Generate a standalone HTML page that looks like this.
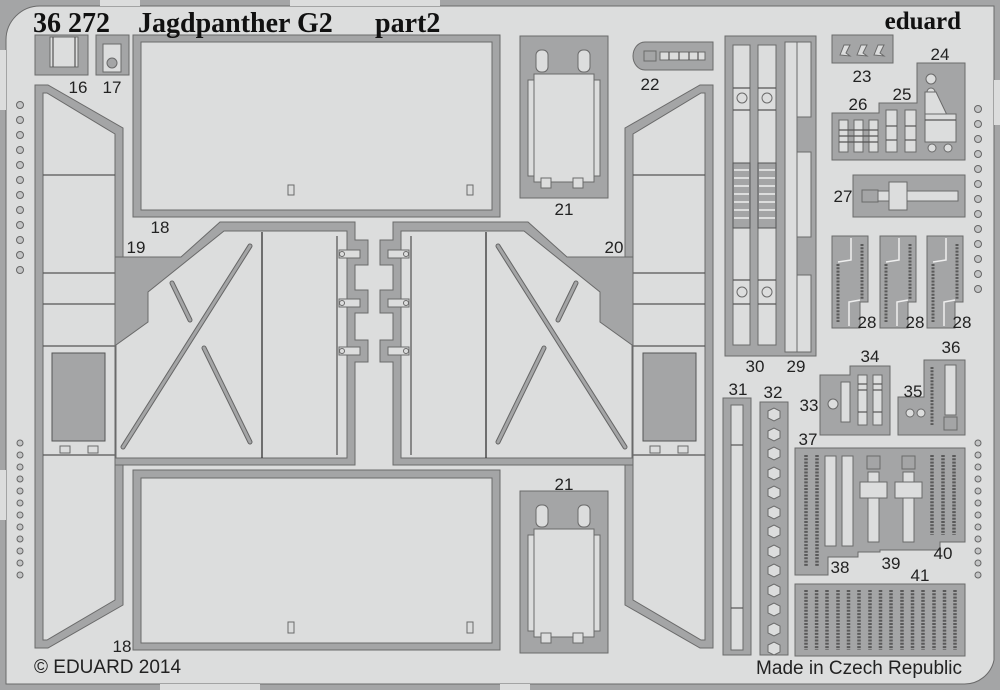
<!DOCTYPE html>
<html><head><meta charset="utf-8"><style>
html,body{margin:0;padding:0;background:#dcdddd;}
svg{display:block;}
.g{fill:#a4a5a6;stroke:#6a6a6a;stroke-width:1}
.l{fill:#dcdddd;stroke:#6a6a6a;stroke-width:1}
.ln{stroke:#555;stroke-width:1.2;fill:none}
.n{font-family:"Liberation Sans",sans-serif;font-size:17px;fill:#222;text-anchor:middle}
.d{fill:#c4c5c6;stroke:#666;stroke-width:1}
.t{font-family:"Liberation Serif",serif;font-weight:bold;font-size:28px;fill:#111}
</style></head><body>
<svg width="1000" height="690" viewBox="0 0 1000 690" xmlns="http://www.w3.org/2000/svg">
<rect width="1000" height="690" fill="#dcdddd"/>
<!-- outer frame -->
<path d="M0,0H1000V690H0Z M40,6H994V660A30,30 0 0 1 964,684H6V40A34,34 0 0 1 40,6Z" fill="#a4a5a6" fill-rule="evenodd"/>
<path d="M40,6H994V660A30,30 0 0 1 964,684H6V40A34,34 0 0 1 40,6Z" fill="none" stroke="#6a6a6a"/>
<rect x="100" y="0" width="40" height="6" fill="#dcdddd"/>
<rect x="290" y="0" width="150" height="6" fill="#dcdddd"/>
<rect x="0" y="50" width="6" height="60" fill="#dcdddd"/>
<rect x="0" y="470" width="6" height="50" fill="#dcdddd"/>
<rect x="994" y="80" width="6" height="45" fill="#dcdddd"/>
<rect x="160" y="684" width="100" height="6" fill="#dcdddd"/>
<rect x="500" y="684" width="30" height="6" fill="#dcdddd"/>

<!-- rivets -->
<g class="d">
<circle cx="20" cy="105" r="3.5"/><circle cx="20" cy="120" r="3.5"/><circle cx="20" cy="135" r="3.5"/><circle cx="20" cy="150" r="3.5"/><circle cx="20" cy="165" r="3.5"/><circle cx="20" cy="180" r="3.5"/><circle cx="20" cy="195" r="3.5"/><circle cx="20" cy="210" r="3.5"/><circle cx="20" cy="225" r="3.5"/><circle cx="20" cy="240" r="3.5"/><circle cx="20" cy="255" r="3.5"/><circle cx="20" cy="270" r="3.5"/>
<circle cx="20" cy="443" r="3"/><circle cx="20" cy="455" r="3"/><circle cx="20" cy="467" r="3"/><circle cx="20" cy="479" r="3"/><circle cx="20" cy="491" r="3"/><circle cx="20" cy="503" r="3"/><circle cx="20" cy="515" r="3"/><circle cx="20" cy="527" r="3"/><circle cx="20" cy="539" r="3"/><circle cx="20" cy="551" r="3"/><circle cx="20" cy="563" r="3"/><circle cx="20" cy="575" r="3"/>
<circle cx="978" cy="109" r="3.5"/><circle cx="978" cy="124" r="3.5"/><circle cx="978" cy="139" r="3.5"/><circle cx="978" cy="154" r="3.5"/><circle cx="978" cy="169" r="3.5"/><circle cx="978" cy="184" r="3.5"/><circle cx="978" cy="199" r="3.5"/><circle cx="978" cy="214" r="3.5"/><circle cx="978" cy="229" r="3.5"/><circle cx="978" cy="244" r="3.5"/><circle cx="978" cy="259" r="3.5"/><circle cx="978" cy="274" r="3.5"/><circle cx="978" cy="289" r="3.5"/>
<circle cx="978" cy="443" r="3"/><circle cx="978" cy="455" r="3"/><circle cx="978" cy="467" r="3"/><circle cx="978" cy="479" r="3"/><circle cx="978" cy="491" r="3"/><circle cx="978" cy="503" r="3"/><circle cx="978" cy="515" r="3"/><circle cx="978" cy="527" r="3"/><circle cx="978" cy="539" r="3"/><circle cx="978" cy="551" r="3"/><circle cx="978" cy="563" r="3"/><circle cx="978" cy="575" r="3"/>
</g>

<!-- 16, 17 -->
<rect class="g" x="35" y="35" width="53" height="40"/>
<rect class="l" x="50" y="37" width="28" height="30"/>
<line class="ln" x1="53" y1="37" x2="53" y2="67"/><line class="ln" x1="75" y1="37" x2="75" y2="67"/>
<rect class="g" x="96" y="35" width="33" height="40"/>
<rect class="l" x="103" y="44" width="18" height="28"/>
<circle class="g" cx="112" cy="63" r="5"/>

<!-- 18 top / bottom -->
<rect class="g" x="133" y="35" width="367" height="182"/>
<rect class="l" x="141" y="42" width="351" height="168"/>
<rect class="l" x="288" y="185" width="6" height="10"/><rect class="l" x="467" y="185" width="6" height="10"/>
<rect class="g" x="133" y="470" width="367" height="180"/>
<rect class="l" x="141" y="478" width="351" height="165"/>
<rect class="l" x="288" y="622" width="6" height="11"/><rect class="l" x="467" y="622" width="6" height="11"/>

<!-- left assembly (mirrored for right) -->
<g id="asm">
<polygon class="g" points="35,85 48,85 123,128 123,605 48,648 35,648"/>
<polygon class="l" points="43,93 47,93 115,134 115,600 47,640 43,640"/>
<g class="ln"><line x1="43" y1="175" x2="115" y2="175"/><line x1="43" y1="273" x2="115" y2="273"/><line x1="43" y1="304" x2="115" y2="304"/><line x1="43" y1="346" x2="115" y2="346"/><line x1="43" y1="455" x2="115" y2="455"/></g>
<rect x="52" y="353" width="53" height="88" fill="#a4a5a6" stroke="#555"/>
<rect class="l" x="60" y="446" width="10" height="7"/><rect class="l" x="88" y="446" width="10" height="7"/>
<polygon class="g" points="115,257 181,257 220,222 355,222 355,240 368,240 368,265 355,265 355,290 368,290 368,313 355,313 355,340 368,340 368,362 355,362 355,465 115,465"/>
<polygon class="l" points="224,231 347,231 347,458 116,458 116,345 148,322 148,292"/>
<line x1="262" y1="232" x2="262" y2="458" stroke="#333" stroke-width="1.3"/>
<line x1="337" y1="236" x2="337" y2="455" stroke="#333" stroke-width="1"/>
<g stroke-linecap="round">
<line x1="123" y1="447" x2="250" y2="246" stroke="#666" stroke-width="5"/>
<line x1="123" y1="447" x2="250" y2="246" stroke="#a4a5a6" stroke-width="3"/>
<line x1="172" y1="283" x2="190" y2="320" stroke="#666" stroke-width="5"/>
<line x1="172" y1="283" x2="190" y2="320" stroke="#a4a5a6" stroke-width="3"/>
<line x1="204" y1="348" x2="250" y2="442" stroke="#666" stroke-width="5"/>
<line x1="204" y1="348" x2="250" y2="442" stroke="#a4a5a6" stroke-width="3"/>
</g>
<rect class="l" x="339" y="250" width="21" height="8"/><circle class="l" cx="342" cy="254" r="2.5"/>
<rect class="l" x="339" y="299" width="21" height="8"/><circle class="l" cx="342" cy="303" r="2.5"/>
<rect class="l" x="339" y="347" width="21" height="8"/><circle class="l" cx="342" cy="351" r="2.5"/>
</g>
<use href="#asm" transform="translate(748,0) scale(-1,1)"/>

<!-- 21 -->
<g id="p21">
<rect class="g" x="520" y="36" width="88" height="162"/>
<rect class="l" x="528" y="80" width="72" height="96"/>
<rect class="l" x="534" y="74" width="60" height="108"/>
<rect class="l" x="536" y="50" width="12" height="22" rx="5"/>
<rect class="l" x="578" y="50" width="12" height="22" rx="5"/>
<rect class="l" x="541" y="178" width="10" height="10"/><rect class="l" x="573" y="178" width="10" height="10"/>
</g>
<use href="#p21" transform="translate(0,455)"/>

<!-- 22 -->
<path class="g" d="M645,42H713V70H645A12,14 0 0 1 645,42Z"/>
<rect class="g" x="644" y="51" width="12" height="10" stroke="#444"/>
<rect class="l" x="660" y="52" width="45" height="8"/>
<g class="ln"><line x1="669" y1="52" x2="669" y2="60"/><line x1="679" y1="52" x2="679" y2="60"/><line x1="689" y1="52" x2="689" y2="60"/><line x1="698" y1="52" x2="698" y2="60"/></g>

<!-- 30/29 -->
<rect class="g" x="725" y="36" width="91" height="320"/>
<rect class="l" x="733" y="45" width="17" height="300"/>
<rect class="l" x="758" y="45" width="18" height="300"/>
<circle class="l" cx="742" cy="98" r="5"/><circle class="l" cx="767" cy="98" r="5"/>
<circle class="l" cx="742" cy="292" r="5"/><circle class="l" cx="767" cy="292" r="5"/>
<g class="ln">
<line x1="733" y1="88" x2="750" y2="88"/><line x1="758" y1="88" x2="776" y2="88"/>
<line x1="733" y1="110" x2="750" y2="110"/><line x1="758" y1="110" x2="776" y2="110"/>
<line x1="733" y1="280" x2="750" y2="280"/><line x1="758" y1="280" x2="776" y2="280"/>
<line x1="733" y1="304" x2="750" y2="304"/><line x1="758" y1="304" x2="776" y2="304"/>
</g>
<rect x="733" y="163" width="17" height="65" fill="#a4a5a6" stroke="#555"/>
<rect x="758" y="163" width="18" height="65" fill="#a4a5a6" stroke="#555"/>
<g stroke="#dcdddd" stroke-width="2"><line x1="734" y1="170" x2="749" y2="170"/><line x1="734" y1="178" x2="749" y2="178"/><line x1="734" y1="186" x2="749" y2="186"/><line x1="734" y1="194" x2="749" y2="194"/><line x1="734" y1="202" x2="749" y2="202"/><line x1="734" y1="210" x2="749" y2="210"/><line x1="734" y1="218" x2="749" y2="218"/>
<line x1="759" y1="170" x2="775" y2="170"/><line x1="759" y1="178" x2="775" y2="178"/><line x1="759" y1="186" x2="775" y2="186"/><line x1="759" y1="194" x2="775" y2="194"/><line x1="759" y1="202" x2="775" y2="202"/><line x1="759" y1="210" x2="775" y2="210"/><line x1="759" y1="218" x2="775" y2="218"/></g>
<rect class="l" x="785" y="42" width="12" height="310"/>
<rect class="l" x="797" y="42" width="14" height="75"/>
<rect class="l" x="797" y="152" width="14" height="85"/>
<rect class="l" x="797" y="275" width="14" height="77"/>

<!-- 23 -->
<rect class="g" x="832" y="35" width="61" height="28"/>
<path class="l" d="M840,55l4,-10h6l-4,8l4,3z M857,55l4,-10h6l-4,8l4,3z M874,55l4,-10h6l-4,8l4,3z"/>
<!-- 24/25/26 -->
<polygon class="g" points="832,113 879,113 879,103 917,103 917,63 965,63 965,160 832,160"/>
<rect class="l" x="839" y="120" width="9" height="32"/><rect class="l" x="854" y="120" width="9" height="32"/><rect class="l" x="869" y="120" width="9" height="32"/>
<g class="ln"><line x1="839" y1="130" x2="878" y2="130"/><line x1="839" y1="136" x2="878" y2="136"/><line x1="839" y1="142" x2="878" y2="142"/></g>
<rect class="l" x="886" y="110" width="11" height="42"/><rect class="l" x="905" y="110" width="11" height="42"/>
<g class="ln"><line x1="886" y1="126" x2="897" y2="126"/><line x1="886" y1="140" x2="897" y2="140"/><line x1="905" y1="126" x2="916" y2="126"/><line x1="905" y1="140" x2="916" y2="140"/></g>
<circle class="l" cx="931" cy="79" r="5"/><circle class="l" cx="931" cy="92" r="4"/>
<polygon class="l" points="925,92 936,92 947,115 947,142 925,142"/>
<rect class="l" x="925" y="114" width="31" height="28"/>
<line class="ln" x1="925" y1="120" x2="956" y2="120"/>
<circle class="l" cx="932" cy="148" r="4"/><circle class="l" cx="948" cy="148" r="4"/>
<!-- 27 -->
<rect class="g" x="853" y="175" width="112" height="42"/>
<rect class="g" x="862" y="190" width="16" height="12" stroke="#444"/>
<rect class="l" x="878" y="191" width="80" height="10"/>
<rect class="l" x="889" y="182" width="18" height="28"/>
<!-- 28 -->
<g id="p28">
<polygon class="g" points="832,236 868,236 868,302 860,302 860,328 832,328"/>
<g fill="none" stroke="#5a5a5a" stroke-width="3" stroke-dasharray="2 1.3"><line x1="838" y1="264" x2="838" y2="322"/><line x1="862" y1="244" x2="862" y2="300"/></g>
<polyline points="851,238 851,260 838,262" fill="none" stroke="#eee" stroke-width="1.5"/>
<polyline points="849,326 849,302 860,300" fill="none" stroke="#eee" stroke-width="1.5"/>
</g>
<use href="#p28" transform="translate(48,0)"/>
<use href="#p28" transform="translate(95,0)"/>

<!-- 31, 32 -->
<rect class="g" x="723" y="398" width="28" height="257"/>
<rect class="l" x="731" y="405" width="12" height="245"/>
<g class="ln"><line x1="731" y1="445" x2="743" y2="445"/><line x1="731" y1="608" x2="743" y2="608"/></g>
<rect class="g" x="760" y="402" width="28" height="253"/>
<g class="l">
<polygon points="768,411 774,408 780,411 780,418 774,421 768,418"/>
<polygon points="768,431 774,428 780,431 780,438 774,441 768,438"/>
<polygon points="768,450 774,447 780,450 780,457 774,460 768,457"/>
<polygon points="768,470 774,467 780,470 780,477 774,480 768,477"/>
<polygon points="768,489 774,486 780,489 780,496 774,499 768,496"/>
<polygon points="768,509 774,506 780,509 780,516 774,519 768,516"/>
<polygon points="768,528 774,525 780,528 780,535 774,538 768,535"/>
<polygon points="768,548 774,545 780,548 780,555 774,558 768,555"/>
<polygon points="768,567 774,564 780,567 780,574 774,577 768,574"/>
<polygon points="768,587 774,584 780,587 780,594 774,597 768,594"/>
<polygon points="768,606 774,603 780,606 780,613 774,616 768,613"/>
<polygon points="768,626 774,623 780,626 780,633 774,636 768,633"/>
<polygon points="768,645 774,642 780,645 780,652 774,655 768,652"/>
</g>

<!-- 33/34 -->
<polygon class="g" points="820,375 850,375 850,366 890,366 890,435 820,435"/>
<circle class="l" cx="833" cy="404" r="5"/>
<rect class="l" x="841" y="382" width="9" height="40"/>
<rect class="l" x="858" y="375" width="9" height="50"/><rect class="l" x="873" y="375" width="9" height="50"/>
<g class="ln"><line x1="858" y1="384" x2="867" y2="384"/><line x1="858" y1="390" x2="867" y2="390"/><line x1="858" y1="412" x2="867" y2="412"/><line x1="873" y1="384" x2="882" y2="384"/><line x1="873" y1="390" x2="882" y2="390"/><line x1="873" y1="412" x2="882" y2="412"/></g>
<!-- 35/36 -->
<polygon class="g" points="898,397 924,397 924,360 965,360 965,435 898,435"/>
<circle class="l" cx="910" cy="413" r="4"/><circle class="l" cx="921" cy="413" r="4"/>
<line x1="932" y1="367" x2="932" y2="425" stroke="#5a5a5a" stroke-width="3" stroke-dasharray="2 1.3"/>
<rect class="l" x="945" y="365" width="11" height="50"/>
<rect class="g" x="944" y="417" width="13" height="13" stroke="#444"/>

<!-- 37-40 -->
<polygon class="g" points="795,448 965,448 965,542 940,542 940,550 880,550 880,552 858,552 858,557 828,557 828,575 795,575"/>
<g stroke="#5a5a5a" stroke-width="3.5" stroke-dasharray="2 1.3">
<line x1="806" y1="455" x2="806" y2="566"/><line x1="817" y1="455" x2="817" y2="566"/>
<line x1="932" y1="455" x2="932" y2="535"/><line x1="943" y1="455" x2="943" y2="535"/><line x1="954" y1="455" x2="954" y2="535"/>
</g>
<rect class="l" x="825" y="456" width="11" height="90"/><rect class="l" x="842" y="456" width="11" height="90"/>
<rect class="g" x="867" y="456" width="13" height="13" stroke="#444"/><rect class="g" x="902" y="456" width="13" height="13" stroke="#444"/>
<rect class="l" x="868" y="472" width="11" height="70"/><rect class="l" x="903" y="472" width="11" height="70"/>
<rect class="l" x="860" y="482" width="27" height="16"/><rect class="l" x="895" y="482" width="27" height="16"/>
<!-- 41 -->
<rect class="g" x="795" y="584" width="170" height="72"/>
<g stroke="#5a5a5a" stroke-width="3.5" stroke-dasharray="2 1.3">
<line x1="806" y1="590" x2="806" y2="650"/><line x1="816.6" y1="590" x2="816.6" y2="650"/><line x1="827" y1="590" x2="827" y2="650"/><line x1="838" y1="590" x2="838" y2="650"/><line x1="848.5" y1="590" x2="848.5" y2="650"/><line x1="859" y1="590" x2="859" y2="650"/><line x1="870" y1="590" x2="870" y2="650"/><line x1="880.5" y1="590" x2="880.5" y2="650"/><line x1="891" y1="590" x2="891" y2="650"/><line x1="902" y1="590" x2="902" y2="650"/><line x1="912.5" y1="590" x2="912.5" y2="650"/><line x1="923" y1="590" x2="923" y2="650"/><line x1="934" y1="590" x2="934" y2="650"/><line x1="944.5" y1="590" x2="944.5" y2="650"/><line x1="955" y1="590" x2="955" y2="650"/>
</g>

<!-- titles -->
<text class="t" x="33" y="32">36 272</text>
<text class="t" x="138" y="32">Jagdpanther G2</text>
<text class="t" x="375" y="32">part2</text>
<text x="961" y="29" font-family="Liberation Serif,serif" font-weight="bold" font-size="25" fill="#111" text-anchor="end">eduard</text>
<text x="34" y="673" font-family="Liberation Sans,sans-serif" font-size="19" fill="#222">© EDUARD 2014</text>
<text x="962" y="674" font-family="Liberation Sans,sans-serif" font-size="19" fill="#222" text-anchor="end">Made in Czech Republic</text>

<!-- labels -->
<g class="n">
<text x="78" y="93">16</text><text x="112" y="93">17</text>
<text x="160" y="233">18</text><text x="136" y="253">19</text><text x="614" y="253">20</text>
<text x="564" y="215">21</text><text x="564" y="490">21</text><text x="650" y="90">22</text>
<text x="862" y="82">23</text><text x="940" y="60">24</text><text x="902" y="100">25</text><text x="858" y="110">26</text>
<text x="843" y="202">27</text>
<text x="867" y="328">28</text><text x="915" y="328">28</text><text x="962" y="328">28</text>
<text x="796" y="372">29</text><text x="755" y="372">30</text><text x="738" y="395">31</text><text x="773" y="398">32</text>
<text x="809" y="411">33</text><text x="870" y="362">34</text><text x="913" y="397">35</text><text x="951" y="353">36</text>
<text x="808" y="445">37</text><text x="840" y="573">38</text><text x="891" y="569">39</text><text x="943" y="559">40</text><text x="920" y="581">41</text>
<text x="122" y="652">18</text>
</g>
</svg>
</body></html>
